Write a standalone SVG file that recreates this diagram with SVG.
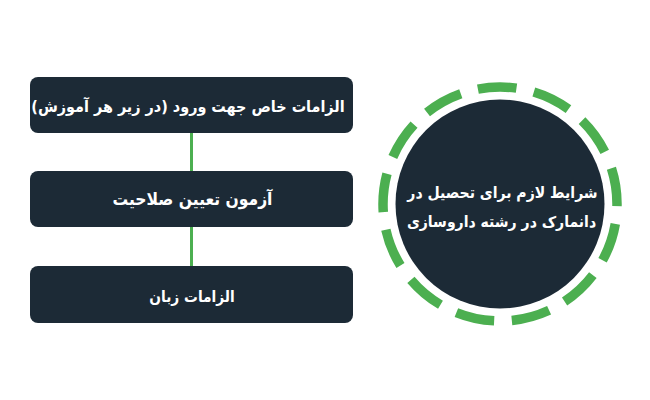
<svg xmlns="http://www.w3.org/2000/svg" width="650" height="400" viewBox="0 0 650 400">
<style>
.box{fill:#1c2a36}
.t{fill:#ffffff;font-family:"DejaVu Sans Condensed","DejaVu Sans",sans-serif;font-weight:bold;text-anchor:middle}
.conn{stroke:#4caf50;stroke-width:3;fill:none}
</style>
<rect width="650" height="400" fill="#ffffff"/>
<g id="connectors">
<line class="conn" x1="191.5" y1="133" x2="191.5" y2="171"/>
<line class="conn" x1="191.5" y1="227" x2="191.5" y2="266"/>
</g>
<g id="node-entry">
<rect class="box" x="30" y="77" width="323" height="56" rx="8"/>
<text class="t" x="188" y="112" font-size="16" direction="rtl">الزامات خاص جهت ورود (در زیر هر آموزش)</text>
</g>
<g id="node-exam">
<rect class="box" x="30" y="171" width="323" height="56" rx="8"/>
<text class="t" x="192.5" y="205" font-size="17.3" direction="rtl">آزمون تعیین صلاحیت</text>
</g>
<g id="node-language">
<rect class="box" x="30" y="266" width="323" height="57" rx="8"/>
<text class="t" x="192" y="302" font-size="15.3" direction="rtl">الزامات زبان</text>
</g>
<g id="node-main">
<circle cx="500" cy="204" r="117" fill="none" stroke="#4caf50" stroke-width="9.5" stroke-dasharray="38.8 17.75" stroke-dashoffset="36.6"/>
<circle cx="500" cy="204" r="104.5" fill="#1c2a36"/>
<text class="t" x="502.5" y="198" font-size="15.6" direction="rtl">شرایط لازم برای تحصیل در</text>
<text class="t" x="501.5" y="227" font-size="15.6" direction="rtl">دانمارک در رشته داروسازی</text>
</g>
</svg>
